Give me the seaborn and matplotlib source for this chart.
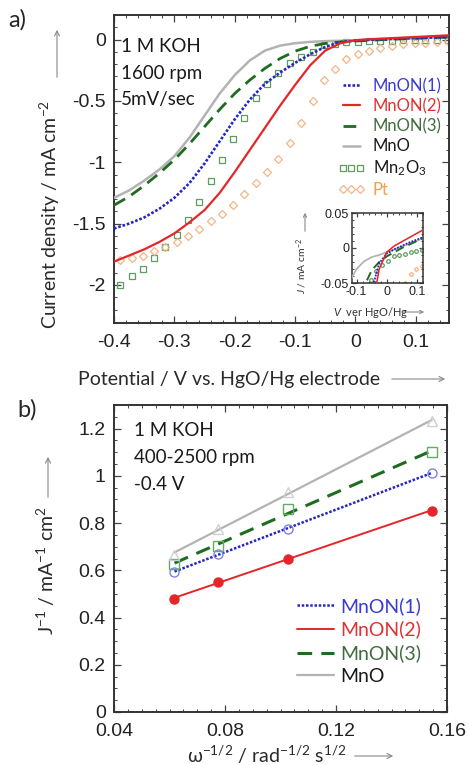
import matplotlib
matplotlib.use("Agg")
import matplotlib.pyplot as plt
import seaborn as sns
import numpy as np
import pandas as pd
from matplotlib.lines import Line2D
from matplotlib.patches import FancyArrowPatch
from matplotlib.ticker import MultipleLocator, FuncFormatter

# ---------------- data: panel a) (linear sweep voltammetry) ----------------
potential = [-0.4, -0.375, -0.35, -0.325, -0.3, -0.275, -0.25, -0.225, -0.2, -0.175,
             -0.15, -0.125, -0.1, -0.075, -0.05, -0.025, 0.0, 0.025, 0.05, 0.075,
             0.1, 0.125, 0.155]
j_mnon1 = [-1.54, -1.50, -1.45, -1.38, -1.29, -1.17, -1.01, -0.83, -0.65, -0.49,
           -0.36, -0.27, -0.19, -0.12, -0.06, -0.022, -0.008, -0.002, 0.003, 0.008,
           0.012, 0.016, 0.02]
j_mnon2 = [-1.81, -1.76, -1.71, -1.65, -1.58, -1.49, -1.39, -1.25, -1.08, -0.90,
           -0.72, -0.54, -0.37, -0.21, -0.09, -0.03, -0.006, 0.003, 0.009, 0.015,
           0.021, 0.027, 0.035]
j_mnon3 = [-1.35, -1.28, -1.19, -1.09, -0.98, -0.85, -0.71, -0.57, -0.44, -0.33,
           -0.235, -0.155, -0.095, -0.055, -0.032, -0.02, -0.012, -0.006, 0.0, 0.005,
           0.01, 0.015, 0.02]
j_mno = [-1.29, -1.23, -1.15, -1.06, -0.95, -0.80, -0.62, -0.44, -0.29, -0.17,
         -0.09, -0.05, -0.03, -0.019, -0.013, -0.01, -0.006, -0.002, 0.002, 0.006,
         0.01, 0.015, 0.02]
potential_pts = [-0.39, -0.371, -0.352, -0.334, -0.315, -0.296, -0.278, -0.259, -0.24, -0.221,
                 -0.203, -0.184, -0.165, -0.146, -0.128, -0.109, -0.09, -0.071, -0.052, -0.034,
                 -0.015, 0.004, 0.023, 0.041, 0.06, 0.079, 0.098, 0.116, 0.135, 0.154]
j_mn2o3 = [-2.00, -1.93, -1.87, -1.78, -1.69, -1.59, -1.47, -1.32, -1.15, -0.98,
           -0.81, -0.64, -0.48, -0.36, -0.27, -0.19, -0.14, -0.10, -0.045, -0.033,
           -0.024, -0.018, -0.012, -0.01, -0.008, -0.006, -0.004, -0.003, -0.002, -0.001]
j_pt = [-1.80, -1.78, -1.76, -1.72, -1.69, -1.65, -1.60, -1.54, -1.48, -1.42,
        -1.35, -1.26, -1.17, -1.08, -0.97, -0.84, -0.68, -0.50, -0.33, -0.24,
        -0.16, -0.12, -0.09, -0.068, -0.05, -0.037, -0.03, -0.025, -0.02, -0.015]

# ---------------- data: panel b) (Koutecky-Levich) ----------------
omega_inv_sqrt = [0.0618, 0.0773, 0.1028, 0.1545]
kl_mnon1 = [0.593, 0.671, 0.773, 1.014]
kl_mnon2 = [0.479, 0.550, 0.650, 0.853]
kl_mnon3 = [0.628, 0.702, 0.858, 1.100]
kl_mno = [0.664, 0.777, 0.933, 1.231]

labels_a = ["MnON(1)", "MnON(2)", "MnON(3)", "MnO", "Mn$_2$O$_3$", "Pt"]
labels_b = ["MnON(1)", "MnON(2)", "MnON(3)", "MnO"]
notes_a = ["1 M KOH", "1600 rpm", "5mV/sec"]
notes_b = ["1 M KOH", "400-2500 rpm", "-0.4 V"]

# ---------------- styling ----------------
sns.set_style("ticks")
plt.rcParams["font.family"] = ["Liberation Sans", "DejaVu Sans"]
plt.rcParams["mathtext.fontset"] = "custom"
plt.rcParams["mathtext.rm"] = "Lato"
plt.rcParams["mathtext.it"] = "Lato:italic"
plt.rcParams["mathtext.default"] = "regular"
plt.rcParams["axes.unicode_minus"] = False
LAB = ["Lato", "DejaVu Sans"]

C_BLUE = "#2626c4"
C_RED = "#e4262a"
C_GREEN = "#1e6d1e"
C_GRAY = "#b3b3b3"
C_SQ = "#5f9c5f"
C_PT = "#f4b487"
T_BLUE = "#3a3ad2"
T_RED = "#e33030"
T_GREEN = "#3f6b3f"
T_PT = "#f2a24e"
DOT = (0, (1.0, 0.7))
DASH = (0, (4.6, 2.6))

W, H = 469, 765
fig = plt.figure(figsize=(W / 100, H / 100), dpi=100)


def fx(px):
    return px / W


def fy(py):
    return 1 - py / H


def fmt(v, p):
    if abs(v) < 1e-9:
        return "0"
    return "%g" % round(v, 6)


def style(ax, xmaj, xmin, ymaj, ymin, fs, xpad, ypad, spw=1.4, tl=5):
    ax.xaxis.set_major_locator(MultipleLocator(xmaj))
    ax.xaxis.set_minor_locator(MultipleLocator(xmin))
    ax.yaxis.set_major_locator(MultipleLocator(ymaj))
    ax.yaxis.set_minor_locator(MultipleLocator(ymin))
    ax.xaxis.set_major_formatter(FuncFormatter(fmt))
    ax.yaxis.set_major_formatter(FuncFormatter(fmt))
    ax.tick_params(which="both", direction="in", top=True, right=True,
                   color="#444444", labelcolor="#222222")
    ax.tick_params(which="major", length=tl, width=0.9, labelsize=fs)
    ax.tick_params(which="minor", length=tl / 2, width=0.7)
    ax.tick_params(axis="x", which="major", pad=xpad)
    ax.tick_params(axis="y", which="major", pad=ypad)
    for s in ax.spines.values():
        s.set_linewidth(spw)
        s.set_color("#333333")


def arrow(x0, y0, x1, y1, ms=9):
    fig.add_artist(FancyArrowPatch((fx(x0), fy(y0)), (fx(x1), fy(y1)),
                                   transform=fig.transFigure, arrowstyle="->",
                                   mutation_scale=ms, color="#8a8a8a", lw=0.8))


def draw_a(ax, lw_scale=1.0, ms_line=4.6, small=False):
    sns.lineplot(x=potential_pts, y=j_mn2o3, ax=ax, linestyle="none",
                 marker="o" if small else "s", markerfacecolor="none",
                 markeredgecolor=C_SQ, markersize=ms_line, markeredgewidth=0.9,
                 legend=False, zorder=2)
    sns.lineplot(x=potential_pts, y=j_pt, ax=ax, linestyle="none", marker="D",
                 markerfacecolor="none", markeredgecolor=C_PT,
                 markersize=ms_line * 0.85, markeredgewidth=0.9, legend=False, zorder=2)
    sns.lineplot(x=potential, y=j_mno, ax=ax, color=C_GRAY, lw=1.8 * lw_scale,
                 legend=False, zorder=3)
    sns.lineplot(x=potential, y=j_mnon3, ax=ax, color=C_GREEN, lw=2.0 * lw_scale,
                 linestyle=DASH, legend=False, zorder=4)
    sns.lineplot(x=potential, y=j_mnon1, ax=ax, color=C_BLUE, lw=1.9 * lw_scale,
                 linestyle=DOT, legend=False, zorder=5)
    sns.lineplot(x=potential, y=j_mnon2, ax=ax, color=C_RED, lw=1.6 * lw_scale,
                 legend=False, zorder=6)


# ---------------- panel a ----------------
ax1 = fig.add_axes([fx(114), fy(323), (449 - 114) / W, (323 - 15) / H])
draw_a(ax1)
ax1.set_xlim(-0.4, 0.155)
ax1.set_ylim(-2.31, 0.2)
style(ax1, 0.1, 0.02, 0.5, 0.1, 14, 8, 6)
ax1.set_xlabel("")
ax1.set_ylabel("")

for i, t in enumerate(notes_a):
    fig.text(fx(121), fy([47, 74, 100][i]), t, ha="left", va="center",
             fontsize=13.5, family=LAB, color="#1a1a1a")

handles_a = [
    Line2D([], [], color=C_BLUE, lw=1.9, linestyle=DOT),
    Line2D([], [], color=C_RED, lw=1.6),
    Line2D([], [], color=C_GREEN, lw=2.0, linestyle=DASH),
    Line2D([], [], color=C_GRAY, lw=1.8),
    Line2D([], [], linestyle="none", marker="s", markerfacecolor="none",
           markeredgecolor=C_SQ, markersize=4.6, markeredgewidth=0.9),
    Line2D([], [], linestyle="none", marker="D", markerfacecolor="none",
           markeredgecolor=C_PT, markersize=3.9, markeredgewidth=0.9),
]
leg1 = ax1.legend(handles_a, labels_a, loc="upper left",
                  bbox_to_anchor=(fx(338), fy(78)), bbox_transform=fig.transFigure,
                  frameon=False, borderpad=0, borderaxespad=0, handlelength=1.6,
                  handletextpad=0.5, labelspacing=0.24, numpoints=3,
                  prop={"family": LAB, "size": 12})
for txt, c in zip(leg1.get_texts(), [T_BLUE, T_RED, T_GREEN, "#1a1a1a", "#1a1a1a", T_PT]):
    txt.set_color(c)

# inset
axi = fig.add_axes([fx(352), fy(283), (423 - 352) / W, (283 - 213) / H])
draw_a(axi, lw_scale=0.7, ms_line=2.6, small=True)
axi.set_xlim(-0.115, 0.12)
axi.set_ylim(-0.05, 0.05)
style(axi, 0.1, 0.02, 0.05, 0.01, 9, 2.5, 2, spw=1.1, tl=3)
axi.set_xlabel("")
axi.set_ylabel("")
fig.text(fx(302), fy(266), "$\\mathit{J}$ / mA cm$^{-2}$", rotation=90, ha="center",
         va="center", fontsize=7.5, family=LAB, color="#333333")
fig.text(fx(371), fy(312), "$\\mathit{V}$  ver HgO/Hg", ha="center", va="center",
         fontsize=8, family=LAB, color="#333333")
arrow(305, 234, 305, 210, ms=6)
arrow(400, 312, 427, 312, ms=6)

# axis labels panel a
fig.text(fx(50), fy(214), "Current density / mA cm$^{-2}$", rotation=90, ha="center",
         va="center", fontsize=14, family=LAB, color="#2a2a2a")
fig.text(fx(229), fy(380), "Potential / V vs. HgO/Hg electrode", ha="center",
         va="center", fontsize=14, family=LAB, color="#2a2a2a")
arrow(57, 80, 57, 27)
arrow(389, 379, 448, 379)
fig.text(fx(8), fy(20), "a)", ha="left", va="center", fontsize=17, family=LAB)

# ---------------- panel b ----------------
ax2 = fig.add_axes([fx(114), fy(712), (447 - 114) / W, (712 - 405) / H])
series_b = [
    (kl_mnon1, C_BLUE, DOT, 1.8, "o", "none", "#8080e4"),
    (kl_mnon2, C_RED, "-", 1.4, "o", C_RED, C_RED),
    (kl_mnon3, C_GREEN, (0, (4.8, 3.0)), 2.2, "s", "none", "#62ad62"),
    (kl_mno, C_GRAY, "-", 1.6, "^", "none", "#cfcfcf"),
]
for yv, lc, ls, lw, mk, mfc, mec in series_b:
    sns.regplot(x=omega_inv_sqrt, y=yv, ax=ax2, scatter=False, ci=None, truncate=True,
                line_kws={"color": lc, "lw": lw, "linestyle": ls, "zorder": 3})
    sns.lineplot(x=omega_inv_sqrt, y=yv, ax=ax2, linestyle="none", marker=mk,
                 markerfacecolor=mfc, markeredgecolor=mec, markersize=6.5,
                 markeredgewidth=1.0, legend=False, zorder=4)
ax2.set_xlim(0.04, 0.16)
ax2.set_ylim(0, 1.3)
style(ax2, 0.04, 0.005, 0.2, 0.05, 14, 8, 6)
ax2.set_xlabel("")
ax2.set_ylabel("")

for i, t in enumerate(notes_b):
    fig.text(fx(134), fy([430, 458, 485][i]), t, ha="left", va="center",
             fontsize=13.5, family=LAB, color="#1a1a1a")

handles_b = [
    Line2D([], [], color=C_BLUE, lw=1.8, linestyle=DOT),
    Line2D([], [], color=C_RED, lw=1.4),
    Line2D([], [], color=C_GREEN, lw=2.2, linestyle=(0, (4.8, 3.0))),
    Line2D([], [], color=C_GRAY, lw=1.6),
]
leg2 = ax2.legend(handles_b, labels_b, loc="upper left",
                  bbox_to_anchor=(fx(297), fy(597)), bbox_transform=fig.transFigure,
                  frameon=False, borderpad=0, borderaxespad=0, handlelength=1.9,
                  handletextpad=0.35, labelspacing=0.3,
                  prop={"family": LAB, "size": 14})
for txt, c in zip(leg2.get_texts(), [T_BLUE, T_RED, T_GREEN, "#1a1a1a"]):
    txt.set_color(c)

fig.text(fx(46), fy(571), "J$^{-1}$ / mA$^{-1}$ cm$^{2}$", rotation=90, ha="center",
         va="center", fontsize=14, family=LAB, color="#2a2a2a")
fig.text(fx(267), fy(755), "ω$^{-1/2}$ / rad$^{-1/2}$ s$^{1/2}$", ha="center",
         va="center", fontsize=14, family=LAB, color="#2a2a2a")
arrow(48, 500, 48, 454)
arrow(352, 756, 396, 756)
fig.text(fx(17), fy(410), "b)", ha="left", va="center", fontsize=17, family=LAB)

fig.savefig("out.png", dpi=100)
